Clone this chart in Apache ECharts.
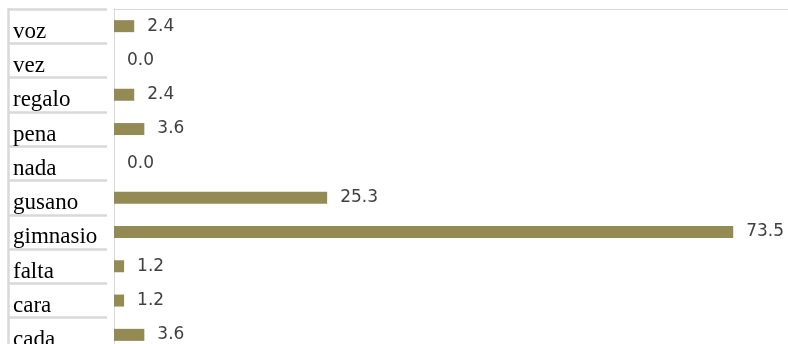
<!DOCTYPE html>
<html><head><meta charset="utf-8">
<script src="https://cdn.jsdelivr.net/npm/echarts@6/dist/echarts.min.js"></script>
<style>html,body{margin:0;padding:0;background:#fff}#c{width:788px;height:344px}</style>
</head><body><div id="c"></div>
<script>
const categories = ["voz","vez","regalo","pena","nada","gusano","gimnasio","falta","cara","cada"];
const values = [2.4, 0.0, 2.4, 3.6, 0.0, 25.3, 73.5, 1.2, 1.2, 3.6];

const chart = echarts.init(document.getElementById('c'), null, {renderer:'canvas'});
chart.setOption({
  animation:false,
  backgroundColor:'#fff',
  grid:[
    {left:114, top:9, right:0, height:343, outerBoundsMode:'none', containLabel:false},
    {left:8, top:9, width:99, height:343, outerBoundsMode:'none', containLabel:false}
  ],
  xAxis:[
    {gridIndex:0, type:'value', min:0, max:80, position:'top',
     axisLine:{show:true, lineStyle:{color:'#d9d9d9', width:1}},
     axisTick:{show:false}, axisLabel:{show:false}, splitLine:{show:false}},
    {gridIndex:1, type:'value', show:false}
  ],
  yAxis:[
    {gridIndex:0, type:'category', data:categories, inverse:true,
     axisLine:{show:true, lineStyle:{color:'#d9d9d9', width:1}},
     axisTick:{show:false}, axisLabel:{show:false}, splitLine:{show:false}},
    {gridIndex:1, type:'category', data:categories, inverse:true,
     axisLine:{show:true, lineStyle:{color:'#d9d9d9', width:2.5}},
     axisTick:{show:false},
     splitLine:{show:true, lineStyle:{color:'#d9d9d9', width:2.5}},
     axisLabel:{inside:true, align:'left', margin:5, color:'#000',
       fontFamily:'"Liberation Serif", serif', fontSize:23,
       verticalAlign:'top', lineHeight:11}}
  ],
  series:[{
    type:'bar', xAxisIndex:0, yAxisIndex:0, data:values, barWidth:12,
    itemStyle:{color:'#948a54'},
    label:{show:true, position:'right', distance:13, color:'#404040',
      fontFamily:'"DejaVu Sans", sans-serif', fontSize:17,
      formatter:p=>p.value.toFixed(1)}
  }]
});
</script></body></html>
